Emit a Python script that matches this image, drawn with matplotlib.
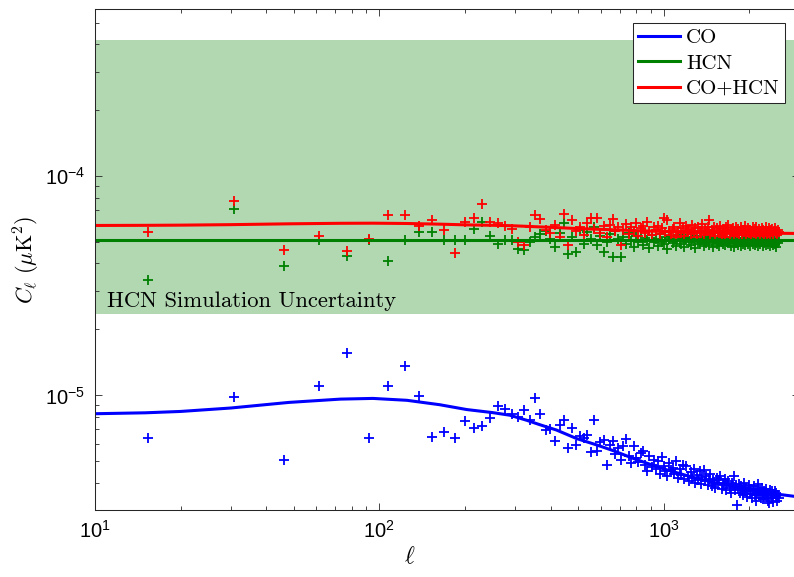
import numpy as np
import matplotlib
matplotlib.use('Agg')
import matplotlib.pyplot as plt

plt.rcParams['font.family'] = ['Liberation Sans', 'DejaVu Sans']
plt.rcParams['mathtext.fontset'] = 'cm'

# multipole bin centres
ell_width = 15.37
ell = ell_width * np.arange(1, 166)

# binned power spectra from the simulations
co_pts = np.array([
    6.36, 9.8, 5.07, 11.0, 15.6, 6.36, 11.07, 13.6, 9.97, 6.46,
    6.83, 6.36, 7.66, 7.12, 7.22, 7.88, 8.91, 8.67, 8.25, 7.97,
    8.6, 7.69, 9.73, 8.25, 6.97, 7.0, 6.17, 7.3, 7.69, 5.75,
    7.1, 5.95, 6.55, 6.4, 6.6, 5.5, 7.69, 5.55, 6.1, 6.28,
    4.83, 5.95, 6.2, 5.4, 5.75, 5.1, 5.9, 6.3, 5.3, 4.9,
    5.85, 5.2, 4.95, 5.45, 5.6, 4.8, 4.5, 5.3, 4.7, 5.1,
    4.6, 5.0, 4.4, 5.26, 4.75, 4.5, 4.27, 4.9, 4.55, 4.65,
    4.4, 5.0, 4.2, 4.6, 4.35, 4.8, 4.15, 4.74, 4.3, 4.05,
    4.45, 4.2, 4.6, 4.0, 4.35, 4.1, 4.5, 3.95, 4.25, 4.58,
    4.05, 4.3, 3.9, 4.15, 4.4, 3.85, 4.1, 4.0, 3.8, 4.2,
    3.95, 4.1, 4.27, 3.75, 4.0, 3.9, 4.15, 3.7, 3.95, 4.05,
    3.8, 3.6, 4.0, 3.85, 4.27, 3.7, 3.9, 3.17, 3.75, 3.95,
    3.6, 3.85, 3.7, 3.5, 4.0, 3.65, 3.8, 3.45, 3.7, 3.9,
    3.55, 3.75, 3.4, 3.65, 3.85, 3.5, 3.7, 3.3, 3.6, 3.95,
    3.5, 3.7, 3.4, 3.8, 3.55, 3.35, 3.65, 3.5, 3.75, 3.45,
    3.6, 3.3, 3.22, 3.7, 3.5, 3.4, 3.65, 3.25, 3.55, 3.65,
    3.45, 3.6, 3.3, 3.5, 3.4]) * 1e-6

hcn_pts = np.array([
    3.38, 7.12, 3.91, 5.1, 4.31, 5.1, 4.12, 5.1, 5.55, 5.55,
    5.1, 5.1, 5.1, 5.75, 6.17, 5.36, 4.93, 5.1, 5.1, 4.66,
    4.63, 5.0, 5.3, 5.45, 5.6, 5.2, 4.75, 5.5, 6.1, 4.4,
    5.3, 4.5, 5.7, 4.9, 5.55, 5.2, 5.9, 4.85, 5.35, 4.5,
    5.0, 5.45, 4.3, 5.6, 5.15, 4.3, 5.3, 4.9, 5.5, 5.05,
    4.75, 5.35, 5.0, 5.6, 4.85, 5.25, 5.1, 4.7, 5.4, 5.0,
    5.2, 4.8, 5.45, 5.0, 4.9, 5.3, 4.65, 5.15, 5.35, 4.95,
    5.1, 4.8, 5.4, 5.05, 4.9, 5.25, 4.75, 5.15, 5.3, 5.0,
    4.85, 5.2, 5.05, 4.7, 5.35, 5.0, 4.9, 5.2, 5.1, 4.8,
    5.25, 4.95, 5.1, 4.85, 5.3, 5.0, 4.75, 5.15, 5.2, 4.9,
    5.05, 4.8, 5.25, 5.0, 4.9, 5.15, 4.85, 5.3, 5.0, 4.95,
    5.1, 4.8, 5.2, 5.0, 4.75, 5.15, 4.95, 5.25, 4.85, 5.05,
    5.0, 4.8, 5.2, 4.9, 5.1, 4.85, 5.25, 5.0, 4.9, 5.15,
    4.8, 5.05, 5.2, 4.9, 5.0, 4.85, 5.1, 4.95, 5.2, 4.8,
    5.05, 4.9, 5.15, 5.0, 4.8, 5.1, 4.95, 5.2, 4.85, 5.0,
    5.1, 4.9, 5.0, 4.8, 5.15, 4.95, 5.05, 4.85, 5.2, 4.9,
    5.0, 4.75, 5.1, 4.95, 5.05]) * 1e-5

tot_pts = np.array([
    5.57, 7.69, 4.61, 5.36, 4.58, 5.18, 6.67, 6.67, 5.95, 6.34,
    5.67, 4.47, 6.19, 6.45, 7.48, 6.2, 6.12, 5.95, 5.77, 5.0,
    4.87, 5.9, 6.64, 6.4, 5.7, 5.5, 6.0, 5.3, 6.7, 4.87,
    6.3, 5.6, 5.85, 5.4, 6.1, 6.45, 5.75, 6.45, 5.5, 5.95,
    5.3, 6.0, 6.4, 5.65, 5.85, 4.87, 5.7, 6.05, 5.45, 5.9,
    5.6, 6.1, 5.35, 5.8, 5.95, 5.5, 6.2, 5.65, 5.4, 5.85,
    5.7, 5.95, 5.45, 5.8, 6.45, 5.55, 6.3, 5.6, 5.4, 5.75,
    5.9, 5.3, 5.65, 6.1, 5.5, 5.8, 5.35, 5.95, 5.6, 5.7,
    5.45, 6.0, 5.55, 5.8, 5.3, 5.9, 5.65, 5.5, 6.05, 5.4,
    5.75, 5.6, 5.85, 6.3, 5.45, 5.7, 5.55, 5.9, 5.35, 5.8,
    5.6, 5.5, 5.95, 5.4, 5.75, 5.65, 5.3, 5.85, 5.55, 6.0,
    5.45, 5.7, 5.6, 5.8, 5.35, 5.65, 5.9, 5.5, 5.75, 5.4,
    5.6, 5.85, 5.45, 5.7, 5.55, 5.95, 5.4, 5.65, 5.8, 5.5,
    5.7, 5.35, 5.6, 5.85, 5.5, 5.75, 5.45, 5.9, 5.6, 5.55,
    5.75, 5.4, 5.65, 5.8, 5.5, 5.7, 5.35, 5.6, 5.85, 5.45,
    5.65, 5.5, 5.8, 5.4, 5.7, 5.55, 5.75, 5.45, 5.6, 5.8,
    5.5, 5.65, 5.4, 5.7, 5.55]) * 1e-5

# model curves
model_ell = np.array([10, 15, 20, 30, 48, 73, 95, 125, 163, 203, 250, 288,
                      330, 367, 420, 495, 580, 664, 800, 1000, 1250, 1538,
                      1900, 2400, 3000])
co_model = np.array([8.25, 8.33, 8.45, 8.76, 9.29, 9.62, 9.69, 9.5, 9.07, 8.62,
                     8.35, 8.12, 7.7, 7.35, 6.95, 6.35, 5.95, 5.6, 5.1, 4.62,
                     4.25, 3.98, 3.8, 3.57, 3.44]) * 1e-6
hcn_level = 5.14e-5
tot_model = co_model + hcn_level

# HCN simulation spread
band_lo, band_hi = 2.35e-5, 4.2e-4

fig = plt.figure(figsize=(7.94, 5.77), dpi=100)
ax = fig.add_axes([95 / 794, 67 / 577, 704.3 / 794, 501 / 577])
ax.set_xscale('log')
ax.set_yscale('log')

ax.axhspan(band_lo, band_hi, color=(0, 0.5, 0), alpha=0.3, lw=0, zorder=0)

mk = dict(ls='none', marker='+', ms=6.5, mew=1.3)
ax.plot(ell, co_pts, color='b', **mk)
ax.plot(ell, hcn_pts, color=(0, 0.5, 0), **mk)
ax.plot(ell, tot_pts, color='r', **mk)

l1, = ax.plot(model_ell, co_model, color='b', lw=2.2)
l2, = ax.plot([model_ell[0], model_ell[-1]], [hcn_level, hcn_level],
              color=(0, 0.5, 0), lw=2.2)
l3, = ax.plot(model_ell, tot_model, color='r', lw=2.2)

ax.text(11.05, 2.53e-5, 'HCN Simulation Uncertainty', family='cmr10',
        size=16.3, va='baseline')

ax.set_xlim(10, 3000)
ax.set_ylim(3e-6, 5.8e-4)

ax.set_xlabel(r'$\ell$', fontsize=17)
ax.xaxis.set_label_coords(0.447, -0.072)
ax.set_ylabel(r'$C_\ell\ (\mu{\rm K}^2)$', fontsize=16)
ax.yaxis.set_label_coords(-0.075, 0.5)

ax.tick_params(which='both', direction='in', top=True, right=True,
               colors='0.15', labelcolor='k', labelsize=14.5, width=0.6)
ax.tick_params(which='major', length=5)
ax.tick_params(which='minor', length=3)
ax.tick_params(axis='y', pad=7)
ax.tick_params(axis='x', pad=7)
for sp in ax.spines.values():
    sp.set_color('0.15')
    sp.set_linewidth(0.75)

leg = ax.legend([l1, l2, l3], ['CO', 'HCN', 'CO+HCN'], loc='upper right',
                bbox_to_anchor=(785 / 794, 1 - 23.3 / 577),
                bbox_transform=fig.transFigure, borderaxespad=0,
                prop={'family': 'cmr10', 'size': 15}, fancybox=False,
                framealpha=1, edgecolor='0.15', handlelength=2.0,
                handletextpad=0.3, labelspacing=0.33, borderpad=0.25)
leg.get_frame().set_linewidth(0.75)

fig.savefig('out.png', dpi=100)
